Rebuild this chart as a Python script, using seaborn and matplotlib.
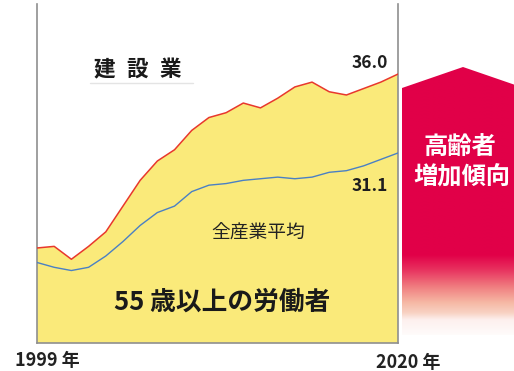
import numpy as np
import pandas as pd
import matplotlib
matplotlib.use("Agg")
import matplotlib.pyplot as plt
import seaborn as sns
from matplotlib.patches import Polygon

# ---- data ----
years = list(range(1999, 2021))
construction = [25.2, 25.3, 24.5, 25.3, 26.2, 27.8, 29.4, 30.6, 31.3, 32.5, 33.3,
                33.6, 34.2, 33.9, 34.5, 35.2, 35.5, 34.9, 34.7, 35.1, 35.5, 36.0]
all_industry = [24.3, 24.0, 23.8, 24.0, 24.7, 25.6, 26.6, 27.4, 27.8, 28.7, 29.1,
                29.2, 29.4, 29.5, 29.6, 29.5, 29.6, 29.9, 30.0, 30.3, 30.7, 31.1]
series_names = ["建設業", "全産業平均"]
title_text = "55 歳以上の労働者"
arrow_text = ["高齢者", "増加傾向"]
start_label = "1999 年"
end_label = "2020 年"

df = pd.DataFrame({"year": years, "construction": construction, "all": all_industry})

sns.set_theme(style="white")
plt.rcParams["font.family"] = ["Noto Sans CJK JP", "DejaVu Sans"]

W, H = 514, 371
fig = plt.figure(figsize=(W / 100, H / 100), dpi=100)
fig.patch.set_facecolor("white")

ax = fig.add_axes([37 / W, 1 - 343 / H, (398 - 37) / W, (343 - 4) / H])
ax.set_facecolor("white")

red = "#E8382D"
blue = "#4A80C4"
yellow = "#FAEA7A"

ax.fill_between(df["year"], df["construction"], 0, color=yellow, lw=0, zorder=1)
sns.lineplot(data=df, x="year", y="construction", color=red, lw=1.1, ax=ax, zorder=3)
sns.lineplot(data=df, x="year", y="all", color=blue, lw=1.0, ax=ax, zorder=3)

ax.set_xlim(1999, 2020)
ax.set_ylim(19.3, 40.35)
ax.set_xticks([])
ax.set_yticks([])
ax.set_xlabel("")
ax.set_ylabel("")
for s in ["left", "right", "bottom"]:
    ax.spines[s].set_visible(True)
    ax.spines[s].set_color("#8f8f8f")
    ax.spines[s].set_linewidth(1.2)
ax.spines["top"].set_visible(False)

# end value labels
ax.annotate(f"{construction[-1]:.1f}", xy=(years[-1], construction[-1]),
            xytext=(-7, 8), textcoords="offset points", ha="right", va="center",
            fontsize=12.5, color="#1e1e1e", fontweight="bold")
ax.annotate(f"{all_industry[-1]:.1f}", xy=(years[-1], all_industry[-1]),
            xytext=(-7, -24), textcoords="offset points", ha="right", va="center",
            fontsize=12.5, color="#1e1e1e", fontweight="bold")

# overlay in pixel coordinates
ov = fig.add_axes([0, 0, 1, 1], zorder=5)
ov.set_xlim(0, W)
ov.set_ylim(H, 0)
ov.axis("off")
ov.patch.set_alpha(0)

# 建設業 with letter spacing
for ch, cx in zip(series_names[0], [104, 137, 170]):
    ov.text(cx, 69, ch, ha="center", va="center", fontsize=15.5,
            fontweight="bold", color="#1a1a1a")
ov.plot([90, 193], [83, 83], color="#e4e4e4", lw=1.0)

ov.text(258, 233, series_names[1], ha="center", va="center", fontsize=13.5,
        color="#222222")
ov.text(222, 302, title_text, ha="center", va="center", fontsize=18.5,
        fontweight="bold", color="#1a1a1a")

ov.text(15, 360, start_label, ha="left", va="center", fontsize=13,
        color="#222222", fontweight="bold")
ov.text(376, 362, end_label, ha="left", va="center", fontsize=13,
        color="#222222", fontweight="bold")

# gradient arrow
poly = Polygon([(402, 335), (402, 88), (463, 67), (524, 88), (524, 335)],
               closed=True, facecolor="none", edgecolor="none")
ov.add_patch(poly)
ys = np.linspace(60, 340, 400)
stops_y = [60, 255, 270, 287, 303, 313, 320, 340]
stops_c = np.array([
    [225, 0, 72], [225, 0, 72], [232, 50, 95], [240, 125, 128],
    [246, 185, 165], [248, 210, 195], [253, 240, 238], [255, 255, 255]]) / 255.0
grad = np.stack([np.interp(ys, stops_y, stops_c[:, i]) for i in range(3)], axis=-1)
img = np.repeat(grad[:, None, :], 2, axis=1)
im = ov.imshow(img, extent=(400, 526, 340, 60), aspect="auto", zorder=1,
               interpolation="bilinear")
im.set_clip_path(poly)
ov.set_xlim(0, W)
ov.set_ylim(H, 0)

ov.text(460, 148, arrow_text[0], ha="center", va="center", fontsize=17.5,
        fontweight="bold", color="white", zorder=3)
ov.text(462, 177, arrow_text[1], ha="center", va="center", fontsize=17.5,
        fontweight="bold", color="white", zorder=3)

fig.savefig("out.png", dpi=100, facecolor="white")
